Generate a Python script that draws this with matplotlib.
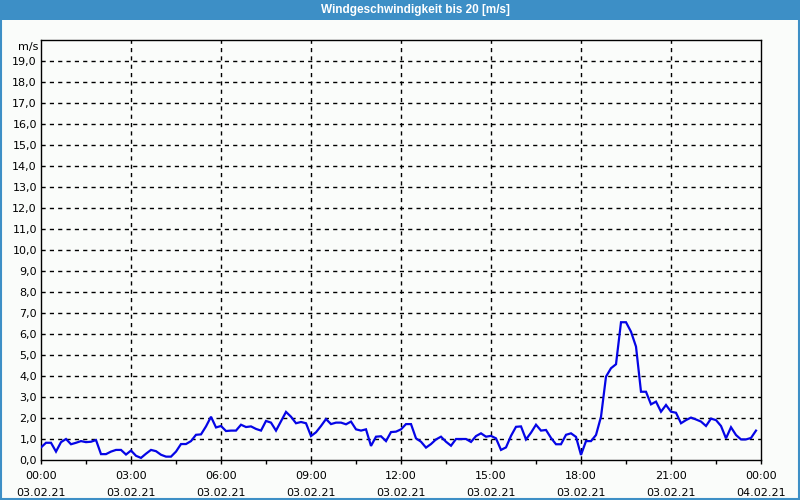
import numpy as np
import pandas as pd
import matplotlib
matplotlib.use("Agg")
import matplotlib.pyplot as plt
from matplotlib.patches import Rectangle

title = "Windgeschwindigkeit bis 20 [m/s]"
unit = "m/s"
step_minutes = 10

speed = [
    0.6, 0.82, 0.82, 0.4, 0.85, 1.0, 0.75, 0.82, 0.9, 0.85, 0.87, 0.95,
    0.28, 0.28, 0.4, 0.48, 0.48, 0.26, 0.45, 0.2, 0.1, 0.3, 0.48, 0.42,
    0.25, 0.16, 0.16, 0.4, 0.76, 0.76, 0.9, 1.2, 1.22, 1.6, 2.06, 1.55,
    1.62, 1.38, 1.4, 1.4, 1.68, 1.57, 1.6, 1.48, 1.4, 1.86, 1.78, 1.4,
    1.85, 2.29, 2.06, 1.75, 1.81, 1.75, 1.14, 1.32, 1.62, 1.95, 1.71, 1.78,
    1.78, 1.70, 1.83, 1.46, 1.4, 1.46, 0.67, 1.11, 1.13, 0.9, 1.33, 1.35,
    1.46, 1.71, 1.71, 1.03, 0.87, 0.59, 0.76, 0.98, 1.11, 0.87, 0.68, 1.0,
    1.0, 1.0, 0.86, 1.14, 1.27, 1.11, 1.15, 1.03, 0.48, 0.6, 1.15, 1.58,
    1.6, 0.98, 1.3, 1.68, 1.4, 1.43, 1.05, 0.75, 0.75, 1.2, 1.27, 1.1,
    0.24, 0.9, 0.9, 1.19, 2.06, 3.97, 4.37, 4.56, 6.56, 6.56, 6.11, 5.4,
    3.25, 3.25, 2.65, 2.78, 2.3, 2.62, 2.3, 2.25, 1.75, 1.9, 2.02, 1.93,
    1.83, 1.62, 1.97, 1.9, 1.62, 1.03, 1.56, 1.19, 0.98, 0.98, 1.05, 1.4,
]

x_tick_hours = [0, 3, 6, 9, 12, 15, 18, 21, 24]
x_tick_labels = ["00:00\n03.02.21", "03:00\n03.02.21", "06:00\n03.02.21",
                 "09:00\n03.02.21", "12:00\n03.02.21", "15:00\n03.02.21",
                 "18:00\n03.02.21", "21:00\n03.02.21", "00:00\n04.02.21"]
y_ticks = list(range(0, 20))
y_tick_labels = [f"{v},0" for v in y_ticks]

hours = np.arange(len(speed)) * step_minutes / 60.0

bg = "#fafcfa"
bar_blue = "#3d8fc6"

fig = plt.figure(figsize=(8, 5), dpi=100, facecolor=bg)
ax = fig.add_axes([41 / 800, 40 / 500, 720 / 800, 420 / 500])
ax.set_facecolor(bg)

ax.plot(hours, speed, color="#0505e6", lw=1.6, solid_joinstyle="miter", zorder=3)

ax.set_xlim(0, 24)
ax.set_ylim(0, 20)
ax.set_xticks(x_tick_hours)
ax.set_xticklabels(x_tick_labels, fontsize=8, family="DejaVu Sans", linespacing=1.8)
ax.set_xticks(np.arange(1.5, 24, 3), minor=True)
ax.set_yticks(y_ticks)
ax.set_yticklabels(y_tick_labels, fontsize=8, family="DejaVu Sans")
ax.tick_params(axis="y", length=0, pad=3)
ax.tick_params(axis="x", which="both", direction="out", length=3, width=1, pad=5)

for h in x_tick_hours[1:-1]:
    ax.axvline(h, color="black", lw=1, ls=(0, (3, 3)), zorder=1)
for v in range(1, 20):
    ax.axhline(v, color="black", lw=1, ls=(0, (3, 3)), zorder=1)

for s in ax.spines.values():
    s.set_color("black")
    s.set_linewidth(1)

ax.text(-0.004, 19.66, unit, transform=ax.get_yaxis_transform(),
        ha="right", va="center", fontsize=8, family="DejaVu Sans")

# title bar and border
fig.patches.append(Rectangle((0, 1 - 20 / 500), 1, 20 / 500, transform=fig.transFigure,
                             facecolor=bar_blue, edgecolor="none", zorder=0))
fig.patches.append(Rectangle((0.001, 0.002), 0.998, 0.996, transform=fig.transFigure,
                             facecolor="none", edgecolor=bar_blue, lw=1.5, zorder=5))
fig.text(415 / 800, 1 - 10 / 500, title, ha="center", va="center", color="white",
         fontsize=8.5, fontweight="bold", family="Liberation Sans")

fig.savefig("out.png", dpi=100, facecolor=bg)
